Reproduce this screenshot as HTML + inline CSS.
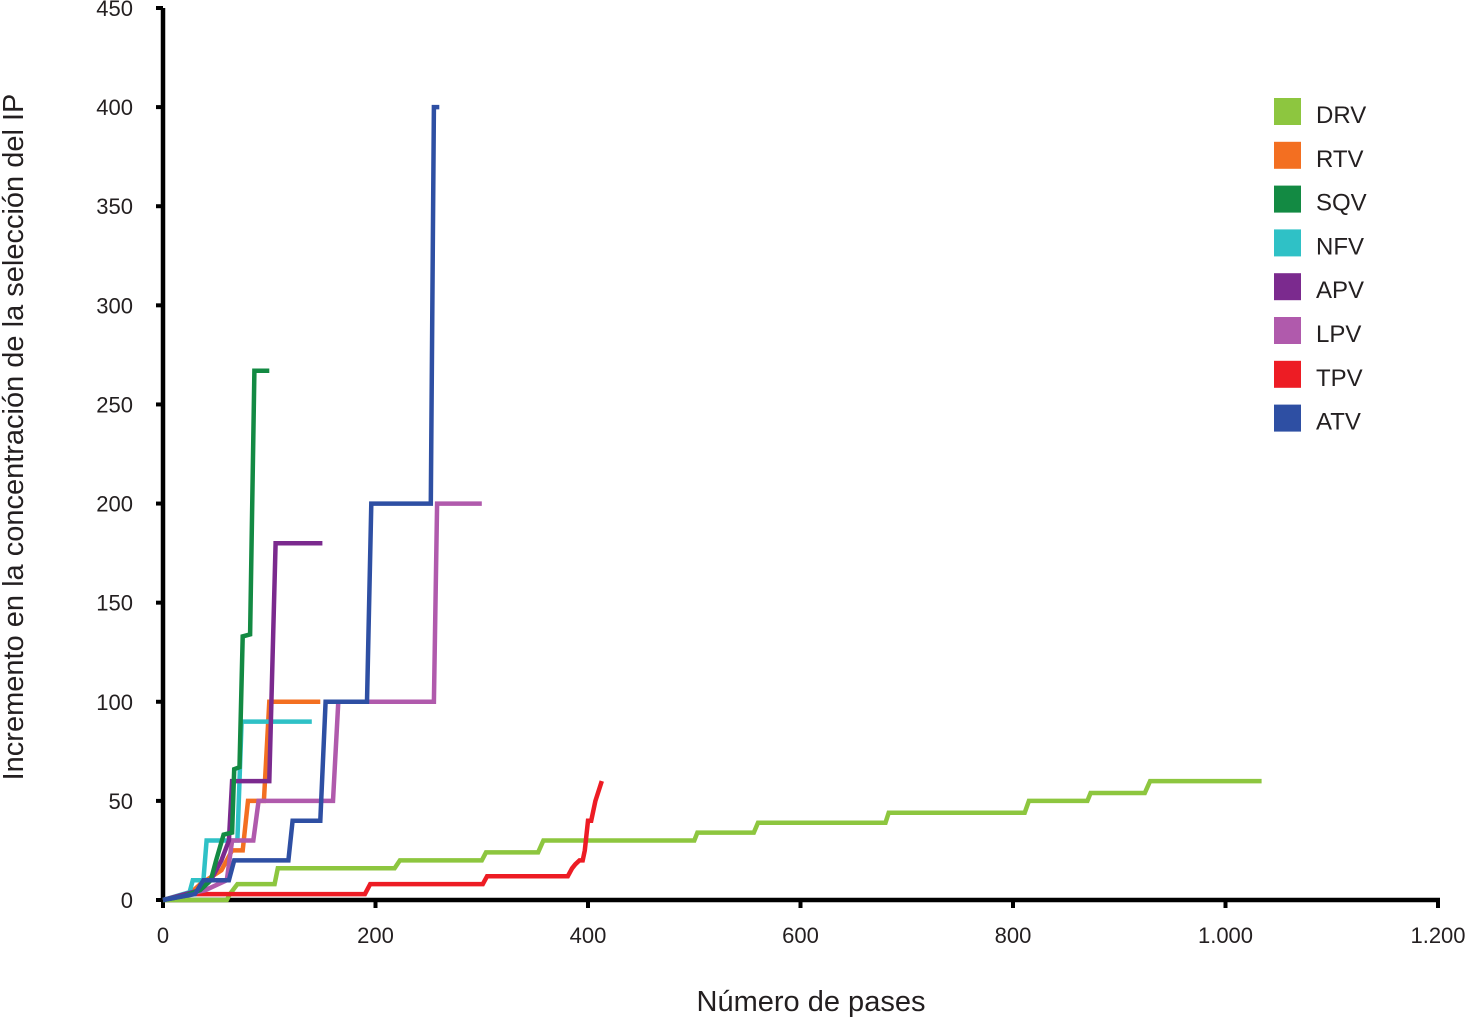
<!DOCTYPE html>
<html><head><meta charset="utf-8"><style>
body{margin:0;background:#fff;font-family:"Liberation Sans",Arial,sans-serif}
svg text{font-family:"Liberation Sans",Arial,sans-serif;fill:#231f20}
</style></head><body>
<svg id="chart" width="1466" height="1017" xmlns="http://www.w3.org/2000/svg"></svg>
<script>
const xTicks=[0,200,400,600,800,1000,1200];
const xTickLabels=["0","200","400","600","800","1.000","1.200"];
const yTicks=[0,50,100,150,200,250,300,350,400,450];
const seriesNames=["DRV","RTV","SQV","NFV","APV","LPV","TPV","ATV"];
const seriesColors=["#8dc63f","#f36f21","#138a43","#2fc1c6","#7b2a8e","#b05aac","#ed1c24","#2e4fa3"];
const drvX=[0,60,63,70,105,108,218,223,300,304,353,358,500,503,556,560,680,683,811,815,870,873,924,929,1034];
const drvY=[0,0,3,8,8,16,16,20,20,24,24,30,30,34,34,39,39,44,44,50,50,54,54,60,60];
const rtvX=[0,25,35,55,65,75,80,95,100,148];
const rtvY=[0,3,8,15,25,25,50,50,100,100];
const sqvX=[0,20,35,45,50,57,65,67,72,75,82,86,100];
const sqvY=[0,2,5,10,20,33,34,66,67,133,134,267,267];
const nfvX=[0,25,28,38,41,70,74,140];
const nfvY=[0,4,10,10,30,30,90,90];
const apvX=[0,35,45,55,62,65,100,106,150];
const apvY=[0,5,10,20,30,60,60,180,180];
const lpvX=[0,40,60,65,85,90,160,165,255,258,300];
const lpvY=[0,5,10,30,30,50,50,100,100,200,200];
const tpvX=[0,15,25,190,195,301,305,381,385,388,392,395,397,400,403,407,413];
const tpvY=[0,2,3,3,8,8,12,12,16,18,20,20,25,40,40,50,60];
const atvX=[0,30,38,62,67,118,122,148,153,192,196,252,255,260];
const atvY=[0,3,10,10,20,20,40,40,100,100,200,200,400,400];
const allX=[drvX,rtvX,sqvX,nfvX,apvX,lpvX,tpvX,atvX];
const allY=[drvY,rtvY,sqvY,nfvY,apvY,lpvY,tpvY,atvY];
const drawOrder=[0,6,1,3,5,4,2,7];

const NS="http://www.w3.org/2000/svg";
const svg=document.getElementById("chart");
const X0=163,X1=1438,Y0=900,Y1=8;
const sx=v=>X0+(v/1200)*(X1-X0);
const sy=v=>Y0-(v/450)*(Y0-Y1);
function mk(tag,attrs,parent){const e=document.createElementNS(NS,tag);for(const k in attrs)e.setAttribute(k,attrs[k]);(parent||svg).appendChild(e);return e;}

const axes=mk("g",{});


const ya=mk("line",{x1:X0,y1:Y1,x2:X0,y2:Y0+2,stroke:"#000","stroke-width":4.5},axes);


const xa=mk("line",{x1:X0-2,y1:Y0,x2:X1+2,y2:Y0,stroke:"#000","stroke-width":4.5},axes);


yTicks.forEach(t=>{
  mk("line",{x1:X0-7,y1:sy(t),x2:X0,y2:sy(t),stroke:"#000","stroke-width":4},axes);
  const tx=mk("text",{x:X0-30,y:sy(t)+8,"text-anchor":"end","font-size":22},axes);
  tx.textContent=t;
  
  
});
xTicks.forEach((t,i)=>{
  mk("line",{x1:sx(t),y1:Y0,x2:sx(t),y2:Y0+8,stroke:"#000","stroke-width":4},axes);
  const tx=mk("text",{x:sx(t),y:943,"text-anchor":"middle","font-size":22},axes);
  tx.textContent=xTickLabels[i];
  
  
});
const xt=mk("text",{x:811,y:1011,"text-anchor":"middle","font-size":29});
xt.textContent="Número de pases";


const yt=mk("text",{x:0,y:0,"text-anchor":"middle","font-size":29,transform:"translate(23,437) rotate(-90)"});
yt.textContent="Incremento en la concentración de la selección del IP";



drawOrder.forEach(i=>{
  const pts=allX[i].map((x,j)=>sx(x).toFixed(1)+","+sy(allY[i][j]).toFixed(1)).join(" ");
  const pl=mk("polyline",{points:pts,fill:"none",stroke:seriesColors[i],"stroke-width":4.5,"stroke-linejoin":"miter"});
  
  
});

seriesNames.forEach((n,i)=>{
  const g=mk("g",{});
  
  
  const y=98+i*43.8;
  mk("rect",{x:1274,y:y,width:27,height:27,fill:seriesColors[i]},g);
  const t=mk("text",{x:1316,y:y+25,"font-size":24},g);
  t.textContent=n;
});
</script>
</body></html>
